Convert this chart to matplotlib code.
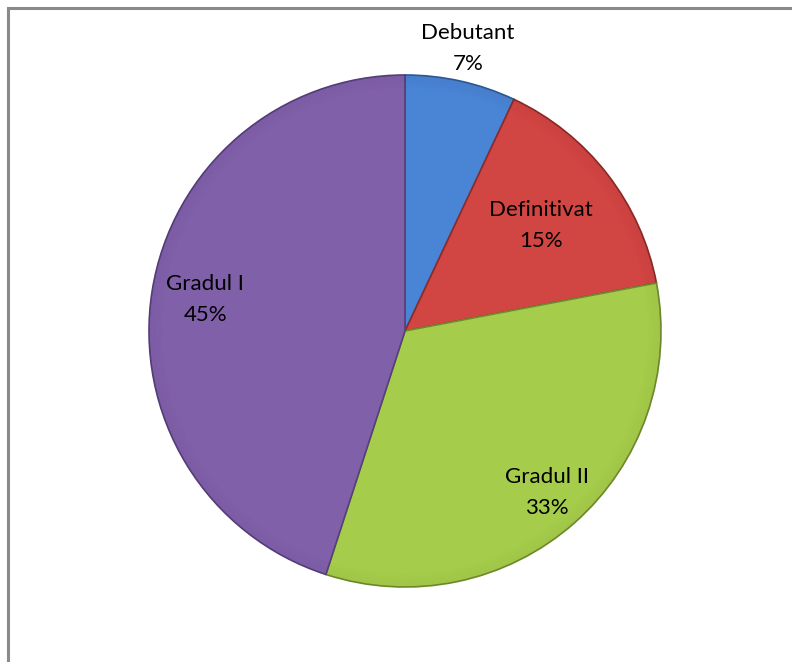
import numpy as np
import matplotlib.pyplot as plt
from matplotlib.patches import Rectangle

labels = ["Debutant", "Definitivat", "Gradul II", "Gradul I"]
shares = [7, 15, 33, 45]
colors = ["#4a84d4", "#d14543", "#a6cc4b", "#8160aa"]
edges = ["#2e5a96", "#8e2a28", "#6f8c2c", "#55407a"]
# label distance from centre (fraction of radius), one per slice
label_dist = [1.13, 0.67, 0.84, 0.79]

plt.rcParams['font.family'] = ['Lato', 'DejaVu Sans']

fig = plt.figure(figsize=(7.92, 6.62), dpi=100)
ax = fig.add_axes([0, 0, 1, 1])

# chart frame (only top/left visible in the crop)
ax.add_patch(Rectangle((7.5, -20), 820, 662 - 7.5 + 20, fill=False,
                       edgecolor="#8a8a8a", linewidth=2.2))

cx, cy, r = 405, 662 - 331, 256
wedges, _ = ax.pie(shares, colors=colors, startangle=90, counterclock=False,
                   center=(cx, cy), radius=r, frame=True,
                   wedgeprops=dict(linewidth=1.2))
for w, ec in zip(wedges, edges):
    w.set_edgecolor(ec)

# soft rim shading to hint at the bevel
for k in range(18):
    ring = plt.Circle((cx, cy), r - k * 0.8, fill=False,
                      edgecolor="black", alpha=0.018 * (18 - k) / 18,
                      linewidth=1.0)
    ax.add_patch(ring)

ax.set_xlim(0, 792)
ax.set_ylim(0, 662)
ax.set_aspect('equal')
ax.axis('off')

for w, lab, val, d in zip(wedges, labels, shares, label_dist):
    mid = np.deg2rad((w.theta1 + w.theta2) / 2)
    x = cx + d * r * np.cos(mid)
    y = cy + d * r * np.sin(mid)
    ax.text(x, y, f"{lab}\n{val}%", ha='center', va='center',
            fontsize=16, color='black', linespacing=1.7)

fig.savefig("out.png", dpi=100)
